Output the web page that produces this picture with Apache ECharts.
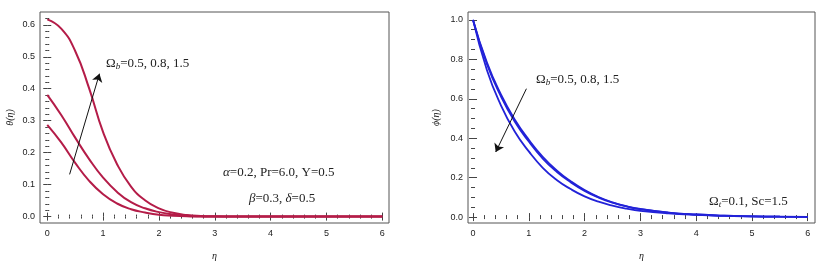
<!DOCTYPE html>
<html><head><meta charset="utf-8">
<script src="https://cdn.jsdelivr.net/npm/echarts@6/dist/echarts.min.js"></script>
<style>html,body{margin:0;padding:0;background:#fff}#c{width:829px;height:266px}</style>
</head><body><div id="c"></div>
<script>
// ---- data ----
const eta = [0,0.25,0.5,0.75,1,1.25,1.5,1.75,2,2.25,2.5,2.75,3,3.5,4,4.5,5,5.5,6];
// theta(eta), left panel (Omega_b = 0.5, 0.8, 1.5)
const theta05 = [0.287,0.232,0.168,0.112,0.070,0.041,0.023,0.013,0.006,0.003,0.001,0,0,0,0,0,0,0,0];
const theta08 = [0.381,0.318,0.247,0.180,0.122,0.077,0.045,0.026,0.014,0.007,0.003,0.001,0,0,0,0,0,0,0];
const theta15 = [0.617,0.588,0.518,0.401,0.264,0.164,0.094,0.051,0.026,0.012,0.005,0.002,0.001,0,0,0,0,0,0];
// phi(eta), right panel (Omega_b = 0.5, 0.8, 1.5)
const phi05 = [1,0.783,0.622,0.494,0.392,0.306,0.237,0.182,0.137,0.102,0.075,0.055,0.041,0.023,0.013,0.007,0.004,0.002,0.001];
const phi08 = [1,0.775,0.612,0.483,0.383,0.297,0.230,0.177,0.133,0.099,0.073,0.054,0.040,0.023,0.013,0.007,0.004,0.002,0.001];
const phi15 = [1,0.745,0.567,0.433,0.333,0.250,0.188,0.142,0.105,0.078,0.058,0.043,0.032,0.019,0.011,0.006,0.0035,0.002,0.001];
// ticks
const xMajor = [0,1,2,3,4,5,6];
const xMinor = [0.2,0.4,0.6,0.8,1.2,1.4,1.6,1.8,2.2,2.4,2.6,2.8,3.2,3.4,3.6,3.8,4.2,4.4,4.6,4.8,5.2,5.4,5.6,5.8,6.0];
const yMajorL = [0,0.1,0.2,0.3,0.4,0.5,0.6];
const yMinorL = [0.02,0.04,0.06,0.08,0.12,0.14,0.16,0.18,0.22,0.24,0.26,0.28,0.32,0.34,0.36,0.38,0.42,0.44,0.46,0.48,0.52,0.54,0.56,0.58,0.62];
const yMajorR = [0,0.2,0.4,0.6,0.8,1.0];
const yMinorR = [0.05,0.1,0.15,0.25,0.3,0.35,0.45,0.5,0.55,0.65,0.7,0.75,0.85,0.9,0.95];
// arrows (data coords)
const arrowL = [[0.40,0.132],[0.935,0.447]];
const arrowR = [[0.957,0.651],[0.407,0.33]];

const pair = (ys) => eta.map((x,i)=>[x,ys[i]]);
const lblFont = {fontFamily:'Liberation Sans', fontSize:9, color:'#222'};
const tickCol = '#444';

function xAxes(g, min, max){
  const base = {type:'value', gridIndex:g, min, max, splitLine:{show:false}, axisLine:{show:false}};
  return [
    Object.assign({}, base, {position:'bottom', axisTick:{inside:true,length:4,customValues:xMajor,lineStyle:{color:tickCol}},
      axisLabel:Object.assign({customValues:xMajor, margin:6, formatter:v=>String(Math.round(v))}, lblFont),
      name:'η', nameLocation:'middle', nameGap:28, nameTextStyle:{fontFamily:'Liberation Serif',fontStyle:'italic',fontSize:10,color:'#222'}}),
    Object.assign({}, base, {position:'bottom', axisTick:{inside:true,length:2,customValues:xMinor,lineStyle:{color:tickCol}}, axisLabel:{show:false}}),
    Object.assign({}, base, {position:'top', axisTick:{inside:true,length:4,customValues:xMajor,lineStyle:{color:tickCol}}, axisLabel:{show:false}}),
    Object.assign({}, base, {position:'top', axisTick:{inside:true,length:2,customValues:xMinor,lineStyle:{color:tickCol}}, axisLabel:{show:false}})
  ];
}
function yAxes(g, min, max, maj, minr, name, gap){
  const base = {type:'value', gridIndex:g, min, max, splitLine:{show:false}, axisLine:{show:false}};
  return [
    Object.assign({}, base, {position:'left', axisTick:{inside:true,length:4,customValues:maj,lineStyle:{color:tickCol}},
      axisLabel:Object.assign({customValues:maj, margin:5, formatter:v=>v.toFixed(1)}, lblFont),
      name:name, nameLocation:'middle', nameGap:gap, nameRotate:90, nameTextStyle:{fontFamily:'Liberation Serif',fontStyle:'italic',fontSize:10,color:'#222'}}),
    Object.assign({}, base, {position:'left', axisTick:{inside:true,length:2,customValues:minr,lineStyle:{color:tickCol}}, axisLabel:{show:false}}),
    Object.assign({}, base, {position:'right', axisTick:{inside:true,length:4,customValues:maj,lineStyle:{color:tickCol}}, axisLabel:{show:false}}),
    Object.assign({}, base, {position:'right', axisTick:{inside:true,length:2,customValues:minr,lineStyle:{color:tickCol}}, axisLabel:{show:false}})
  ];
}
function arrowML(a){
  return {silent:true, symbol:['none','arrow'], symbolSize:8, label:{show:false},
    lineStyle:{color:'#111', width:1, type:'solid'}, itemStyle:{color:'#111'}, emphasis:{disabled:true},
    data:[[{coord:a[0]},{coord:a[1]}]]};
}
const redLine = {color:'#b41c48', width:2};
const blueLine = {color:'#2222d8', width:1.8};
function line(ys, xi, yi, ls, extra){
  return Object.assign({type:'line', data:pair(ys), xAxisIndex:xi, yAxisIndex:yi, showSymbol:false, symbol:'none',
    smooth:0.5, lineStyle:ls, silent:true, animation:false}, extra||{});
}

const serif = 'Liberation Serif';
const rich = {
  n:{fontFamily:serif, fontSize:13, fill:'#222'},
  i:{fontFamily:serif, fontSize:13, fontStyle:'italic', fill:'#222'},
  s:{fontFamily:serif, fontSize:9, fontStyle:'italic', fill:'#222', verticalAlign:'bottom', padding:[5,0,0,0]}
};
function txt(x,y,text){
  return {type:'text', x, y, silent:true, style:{text, rich, verticalAlign:'middle', align:'left', fontFamily:serif, fontSize:13, fill:'#222'}};
}

const option = {
  animation:false,
  backgroundColor:'#fff',
  grid:[
    {left:40, top:12, width:349, height:215, show:true, borderColor:'#555', borderWidth:1},
    {left:468, top:12, width:347, height:215, show:true, borderColor:'#555', borderWidth:1}
  ],
  xAxis: xAxes(0,-0.13,6.12).concat(xAxes(1,-0.09,6.13)),
  yAxis: yAxes(0,-0.02,0.64,yMajorL,yMinorL,'θ(η)',25).concat(yAxes(1,-0.03,1.04,yMajorR,yMinorR,'ϕ(η)',27)),
  series:[
    line(theta05,0,0,redLine),
    line(theta08,0,0,redLine),
    line(theta15,0,0,redLine,{markLine:arrowML(arrowL)}),
    line(phi05,4,4,blueLine),
    line(phi08,4,4,blueLine),
    line(phi15,4,4,blueLine,{markLine:arrowML(arrowR)})
  ],
  graphic:[
    txt(106,64,'{n|Ω}{s|b}{n|=0.5, 0.8, 1.5}'),
    txt(223,173,'{i|α}{n|=0.2, Pr=6.0, Υ=0.5}'),
    txt(249,199,'{i|β}{n|=0.3, }{i|δ}{n|=0.5}'),
    txt(536,80,'{n|Ω}{s|b}{n|=0.5, 0.8, 1.5}'),
    txt(709,202,'{n|Ω}{s|t}{n|=0.1, Sc=1.5}')
  ]
};
const chart = echarts.init(document.getElementById('c'), null, {renderer:'canvas'});
chart.setOption(option);
</script></body></html>
